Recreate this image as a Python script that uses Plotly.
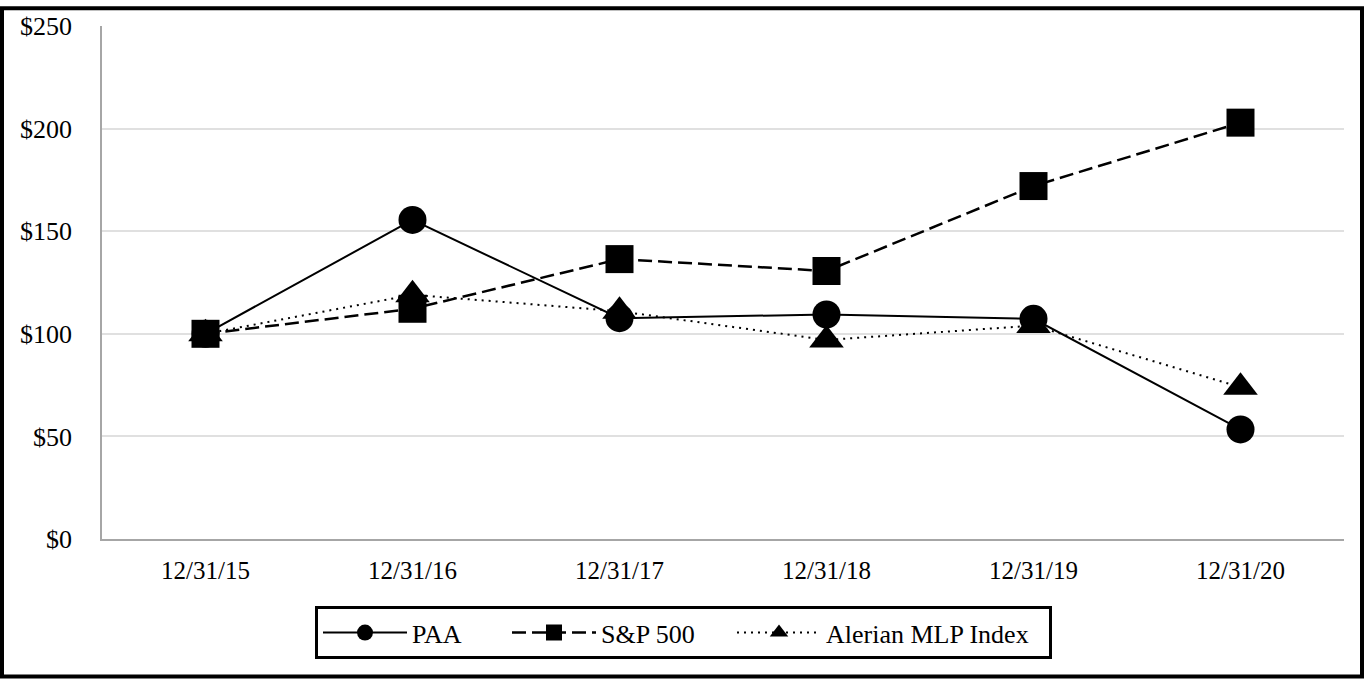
import plotly.graph_objects as go

dates = ["12/31/15", "12/31/16", "12/31/17", "12/31/18", "12/31/19", "12/31/20"]
paa = [100, 155.5, 107.6, 109.4, 107.3, 53.4]
sp500 = [100, 112.2, 136.4, 130.6, 172.0, 202.9]
alerian = [100, 119, 111, 97, 104, 74]
y_ticks = [0, 50, 100, 150, 200, 250]

W, H = 1364, 680
ML, MR, MT, MB = 102, 20, 20, 141
PW, PH = W - ML - MR, H - MT - MB

FONT = "Liberation Serif"

fig = go.Figure()
fig.add_trace(go.Scatter(
    x=dates, y=paa, name="PAA", mode="lines+markers",
    line=dict(color="black", width=2),
    marker=dict(symbol="circle", size=28, color="black"),
    legendwidth=90,
))
fig.add_trace(go.Scatter(
    x=dates, y=sp500, name="S&P 500", mode="lines+markers",
    line=dict(color="black", width=2.5, dash="14px,6px"),
    marker=dict(symbol="square", size=28, color="black"),
    legendwidth=126,
))
fig.add_trace(go.Scatter(
    x=dates, y=alerian, name="Alerian MLP Index", mode="lines+markers",
    line=dict(color="black", width=2, dash="2px,5px"),
    marker=dict(symbol="triangle-up", size=30, color="black"),
    legendwidth=218,
))

fig.update_layout(
    width=W, height=H,
    margin=dict(l=ML, r=MR, t=MT, b=MB),
    paper_bgcolor="white", plot_bgcolor="white",
    font=dict(family=FONT, size=25, color="black"),
    showlegend=True,
    legend=dict(
        orientation="h",
        x=(315 - ML) / PW, xanchor="left",
        y=-(607 - (MT + PH)) / PH, yanchor="top",
        bordercolor="black", borderwidth=3,
        font=dict(family=FONT, size=26, color="black"),
        itemwidth=84,
        bgcolor="white",
    ),
    xaxis=dict(
        type="category", range=[-0.5, 5.5],
        showgrid=False, showline=True, linecolor="#a6a6a6", linewidth=1.5,
        ticks="", ticklabelstandoff=8,
        tickfont=dict(family=FONT, size=25, color="black"),
    ),
    yaxis=dict(
        range=[0, 250], tickvals=y_ticks, ticktext=["$" + str(v) for v in y_ticks],
        showgrid=True, gridcolor="#e0e0e0", gridwidth=1.5,
        showline=True, linecolor="#a6a6a6", linewidth=1.5,
        zeroline=False, ticks="", ticklabelstandoff=23,
        tickfont=dict(family=FONT, size=26, color="black"),
    ),
    shapes=[dict(
        type="rect", xref="paper", yref="paper",
        x0=(2 - ML) / PW, x1=(W - 2 - ML) / PW,
        y0=-(H - 2 - MT - PH) / PH, y1=(MT + PH - 2) / PH,
        line=dict(color="black", width=4), fillcolor="rgba(0,0,0,0)",
        layer="above",
    )],
)

fig.write_html(
    "out.html",
    config={"displayModeBar": False},
    post_script="document.body.style.margin='0';document.body.style.overflow='hidden';",
)
